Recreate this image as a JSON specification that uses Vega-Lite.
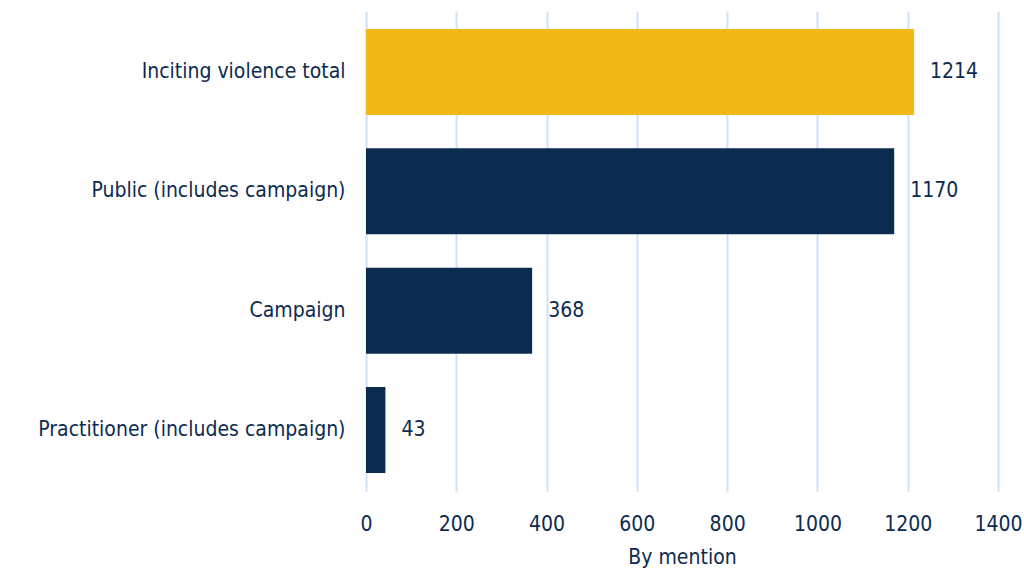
{
  "$schema": "https://vega.github.io/schema/vega-lite/v6.json",
  "width": 632,
  "height": 480,
  "padding": {"left": 366, "top": 11, "right": 26, "bottom": 79},
  "autosize": {"type": "none"},
  "background": "white",
  "config": {
    "view": {"stroke": null},
    "font": "DejaVu Sans Condensed, Roboto, sans-serif",
    "axis": {"labelFont": "DejaVu Sans Condensed, Roboto, sans-serif", "titleFont": "DejaVu Sans Condensed, Roboto, sans-serif", "labelColor": "#0d2b50", "titleColor": "#0d2b50"}
  },
  "data": {
    "values": [
      {"category": "Inciting violence total", "value": 1214, "type": "total"},
      {"category": "Public (includes campaign)", "value": 1170, "type": "sub"},
      {"category": "Campaign", "value": 368, "type": "sub"},
      {"category": "Practitioner (includes campaign)", "value": 43, "type": "sub"}
    ]
  },
  "encoding": {
    "y": {
      "field": "category", "type": "nominal", "sort": null,
      "scale": {"paddingInner": 0.28, "paddingOuter": 0.15},
      "axis": {"title": null, "domain": false, "ticks": false, "labelFontSize": 21, "labelPadding": 21, "labelLimit": 400}
    },
    "x": {
      "field": "value", "type": "quantitative",
      "scale": {"domain": [0, 1400], "nice": false},
      "axis": {"values": [0, 200, 400, 600, 800, 1000, 1200, 1400], "format": "d", "labelFlush": false, "title": "By mention", "domain": false, "ticks": false, "gridColor": "#cfe2f7", "gridWidth": 2, "labelFontSize": 21, "labelPadding": 22, "titleFontSize": 21, "titleFontWeight": "normal", "titlePadding": 12}
    }
  },
  "layer": [
    {
      "mark": {"type": "bar"},
      "encoding": {
        "color": {"field": "type", "type": "nominal", "scale": {"domain": ["total", "sub"], "range": ["#f2b813", "#0c2c4f"]}, "legend": null}
      }
    },
    {
      "mark": {"type": "text", "align": "left", "dx": 16, "fontSize": 21, "color": "#0d2b50", "font": "DejaVu Sans Condensed, Roboto, sans-serif"},
      "encoding": {"text": {"field": "value", "type": "quantitative", "format": "d"}}
    }
  ]
}
